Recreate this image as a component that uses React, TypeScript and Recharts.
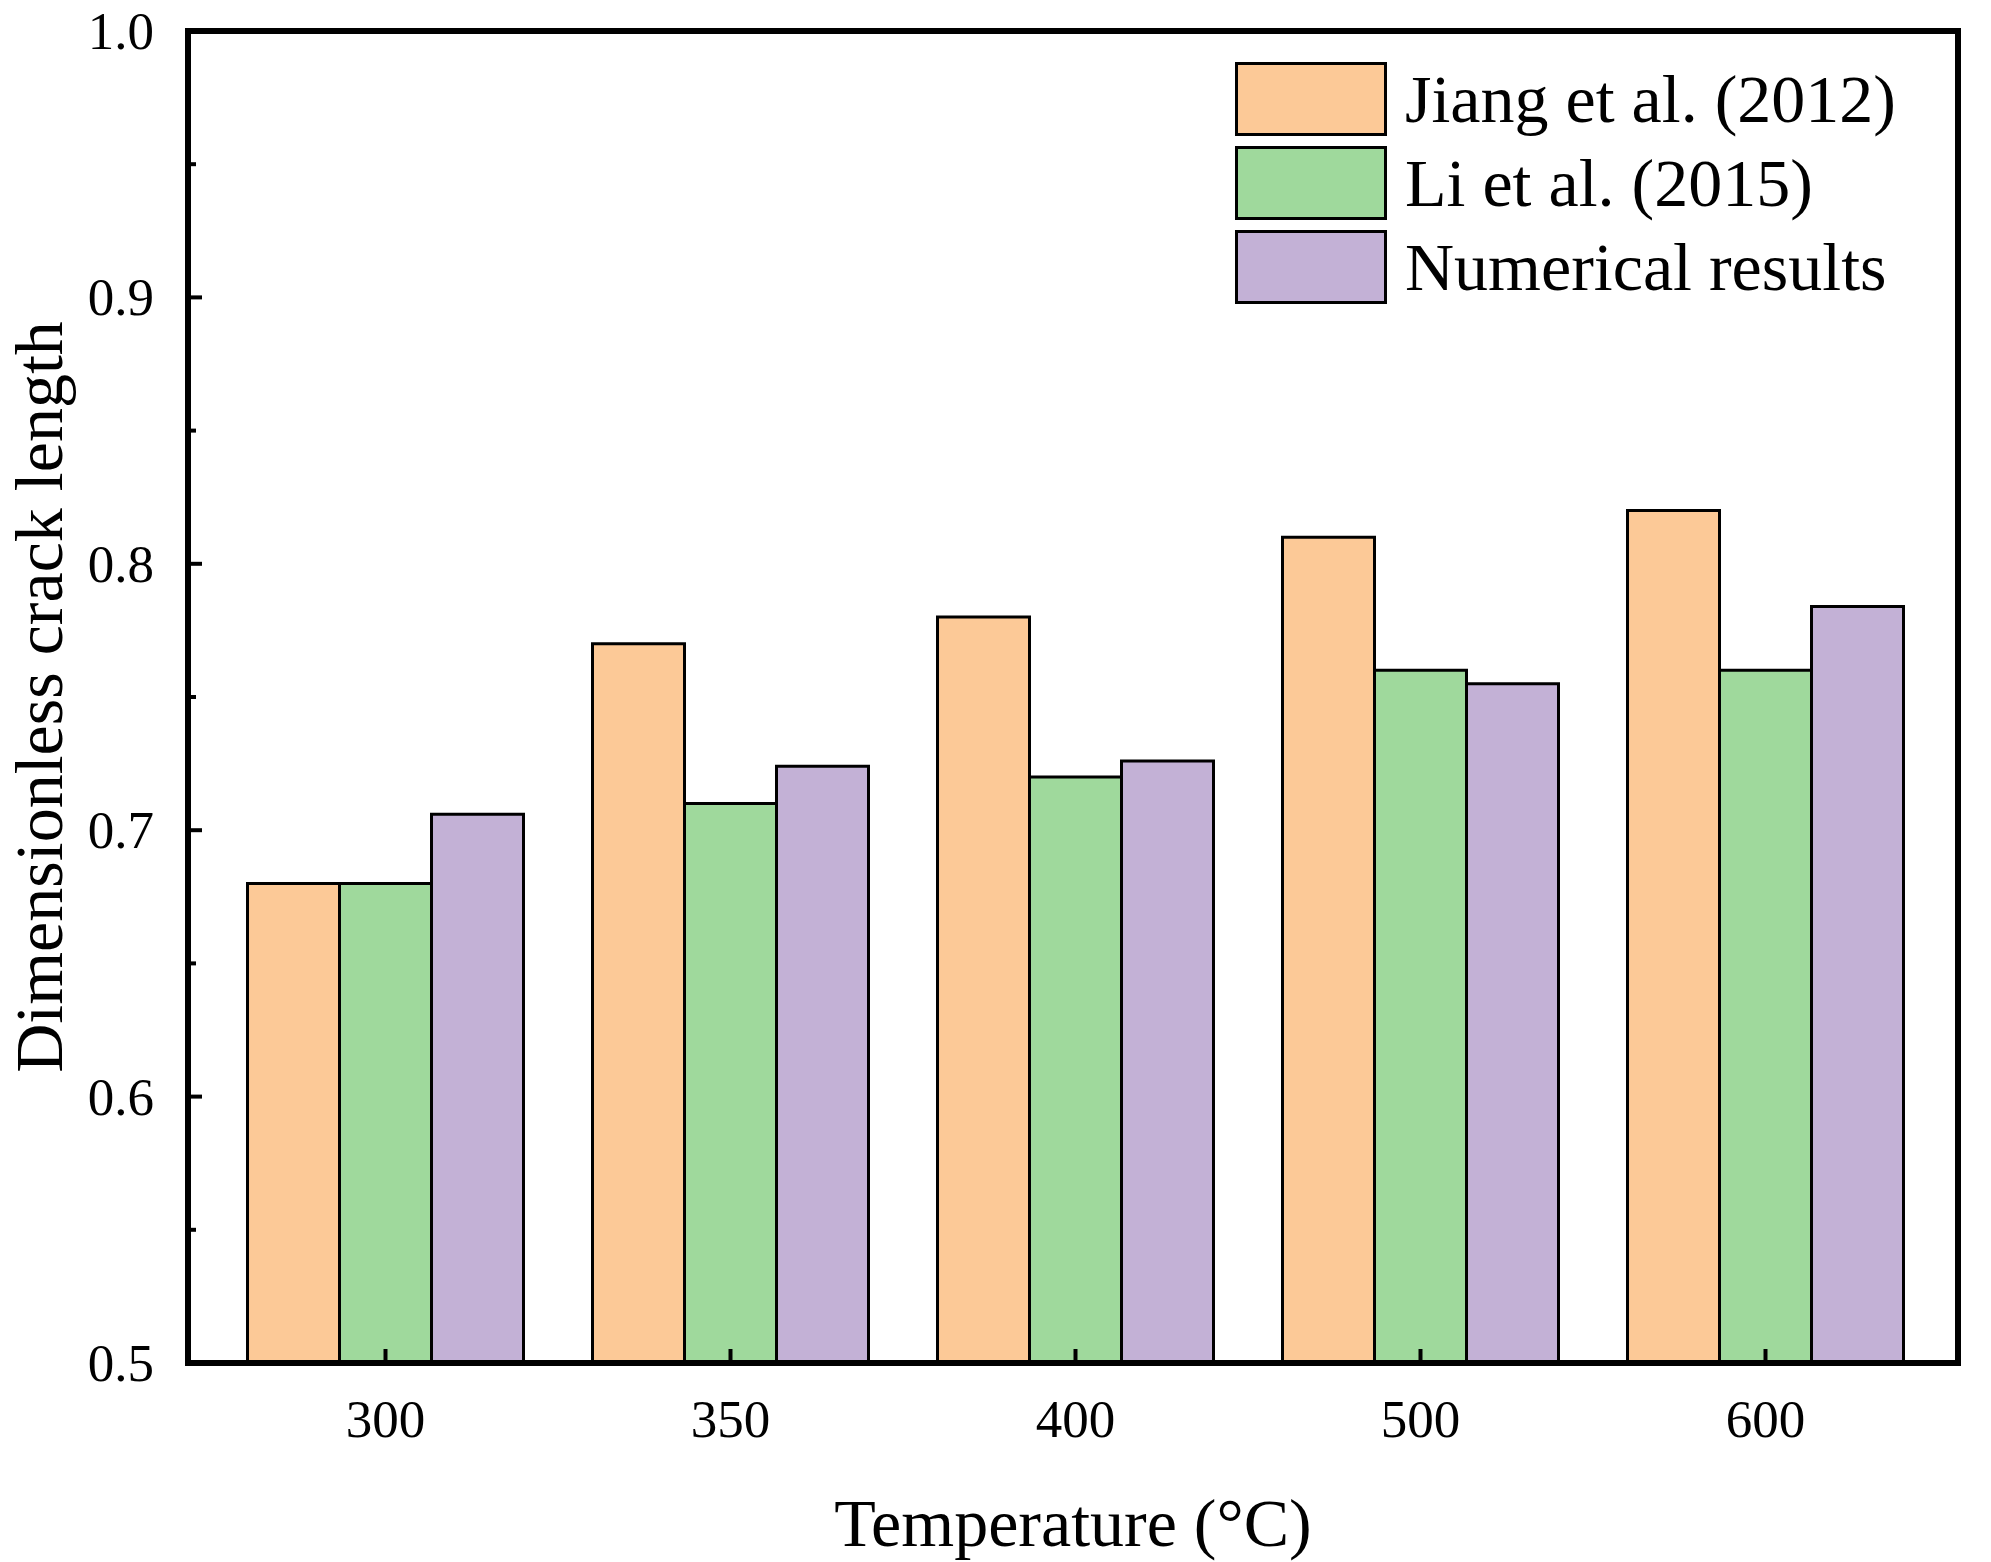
import { Bar, BarChart, XAxis, YAxis } from "recharts";

const temperatures = ["300", "350", "400", "500", "600"];
const jiang = [0.68, 0.77, 0.78, 0.81, 0.82];
const li = [0.68, 0.71, 0.72, 0.76, 0.76];
const numerical = [0.706, 0.724, 0.726, 0.755, 0.784];
const yTicks = [0.5, 0.55, 0.6, 0.65, 0.7, 0.75, 0.8, 0.85, 0.9, 0.95, 1.0];

const series = [
  { key: "jiang", name: "Jiang et al. (2012)", color: "#fcc997" },
  { key: "li", name: "Li et al. (2015)", color: "#9fd99c" },
  { key: "num", name: "Numerical results", color: "#c3b1d6" },
];

const data = temperatures.map((t, i) => ({
  t,
  jiang: jiang[i],
  li: li[i],
  num: numerical[i],
}));

const FONT = "'Liberation Serif', 'Times New Roman', serif";

const YTick = (props: any) => {
  const { x, y, payload } = props;
  const v = Number(payload.value);
  const major = Math.abs(v * 10 - Math.round(v * 10)) < 1e-6;
  return (
    <g>
      <line x1={x} x2={x + (major ? 16 : 10)} y1={y} y2={y} stroke="#000" strokeWidth={4} />
      {major && (
        <text x={x - 32} y={y} dy={18} textAnchor="end" fontSize={53} fontFamily={FONT}>
          {v.toFixed(1)}
        </text>
      )}
    </g>
  );
};

const XTick = (props: any) => {
  const { x, y, payload } = props;
  return (
    <g>
      <line x1={x} x2={x} y1={y} y2={y - 16} stroke="#000" strokeWidth={4} />
      <text x={x} y={y + 72} textAnchor="middle" fontSize={53} fontFamily={FONT}>
        {payload.value}
      </text>
    </g>
  );
};

const LegendBox = () => (
  <div
    style={{
      position: "absolute",
      left: 1235,
      top: 57,
      fontFamily: FONT,
      fontSize: 68,
    }}
  >
    {series.map((s) => (
      <div key={s.key} style={{ display: "flex", alignItems: "center", height: 84 }}>
        <div
          style={{
            width: 152,
            height: 74,
            background: s.color,
            border: "3px solid #000",
            boxSizing: "border-box",
            marginRight: 18,
          }}
        />
        <span>{s.name}</span>
      </div>
    ))}
  </div>
);

export default function App() {
  return (
    <div style={{ position: "absolute", left: 0, top: 0, width: 1991, height: 1562, background: "#fff" }}>
      <BarChart
        width={1991}
        height={1562}
        data={data}
        margin={{ top: 31, right: 33, left: 0, bottom: 0 }}
        barCategoryGap="10%"
        barGap={0}
      >
        <XAxis
          dataKey="t"
          height={199}
          axisLine={{ stroke: "#000", strokeWidth: 6 }}
          tickLine={false}
          tickSize={0}
          tick={<XTick />}
          padding={{ left: 25, right: 20 }}
          interval={0}
          label={{
            value: "Temperature (°C)",
            position: "insideBottom",
            offset: 16,
            fontSize: 68,
            fontFamily: FONT,
            fill: "#000",
          }}
        />
        <YAxis
          width={188}
          domain={[0.5, 1.0]}
          ticks={yTicks}
          interval={0}
          allowDataOverflow
          axisLine={{ stroke: "#000", strokeWidth: 6 }}
          tickLine={false}
          tickSize={0}
          tick={<YTick />}
          label={{
            value: "Dimensionless crack length",
            angle: -90,
            position: "insideLeft",
            offset: 38,
            style: { textAnchor: "middle" },
            fontSize: 68,
            fontFamily: FONT,
            fill: "#000",
          }}
        />
        {series.map((s) => (
          <Bar
            key={s.key}
            dataKey={s.key}
            name={s.name}
            fill={s.color}
            stroke="#000"
            strokeWidth={3}
            isAnimationActive={false}
          />
        ))}
      </BarChart>
      <div
        style={{
          position: "absolute",
          left: 185,
          top: 28,
          width: 1776,
          height: 1338,
          border: "6px solid #000",
          boxSizing: "border-box",
          pointerEvents: "none",
        }}
      />
      <LegendBox />
    </div>
  );
}
